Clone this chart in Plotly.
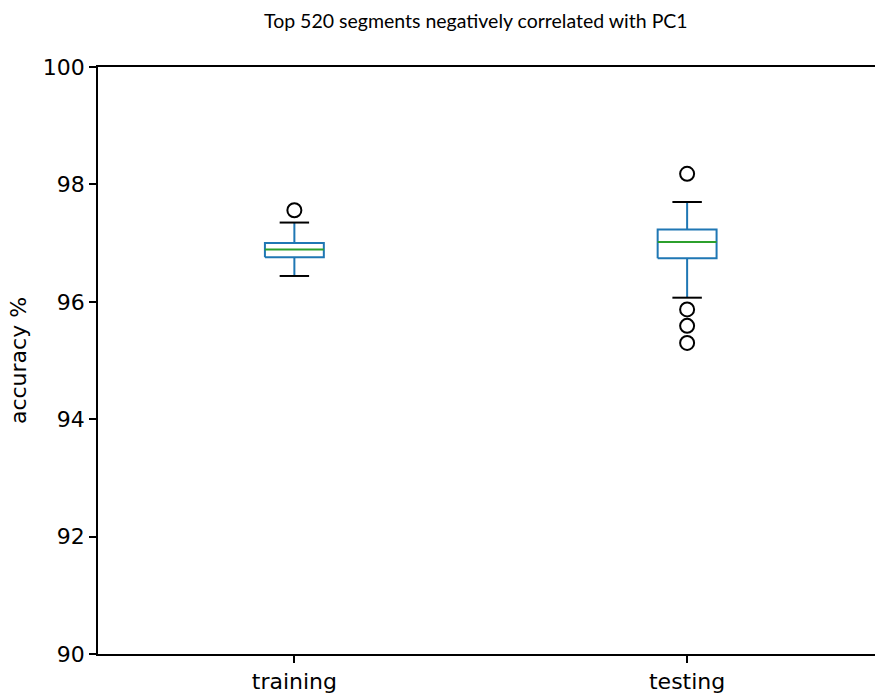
import plotly.graph_objects as go

# Summary statistics for each box (accuracy %)
categories = ["training", "testing"]
positions = [1, 2]
lower_whisker = [96.44, 96.07]
q1 = [96.76, 96.74]
median = [96.89, 97.02]
q3 = [97.00, 97.23]
upper_whisker = [97.35, 97.70]
outliers = [[97.56], [98.18, 95.87, 95.59, 95.30]]

y_ticks = [90, 92, 94, 96, 98, 100]

BOX_W = 0.15
CAP_W = 0.075
BLUE = "#1f77b4"
GREEN = "#2ca02c"

fig = go.Figure()

for p, lo, a, m, b, hi, fl in zip(positions, lower_whisker, q1, median, q3,
                                  upper_whisker, outliers):
    # box body
    fig.add_trace(go.Scatter(
        x=[p - BOX_W / 2, p + BOX_W / 2, p + BOX_W / 2, p - BOX_W / 2, p - BOX_W / 2],
        y=[a, a, b, b, a], mode="lines",
        line=dict(color=BLUE, width=2), hoverinfo="skip", showlegend=False))
    # whiskers
    fig.add_trace(go.Scatter(
        x=[p, p, None, p, p], y=[a, lo, None, b, hi], mode="lines",
        line=dict(color=BLUE, width=2), hoverinfo="skip", showlegend=False))
    # caps
    fig.add_trace(go.Scatter(
        x=[p - CAP_W / 2, p + CAP_W / 2, None, p - CAP_W / 2, p + CAP_W / 2],
        y=[lo, lo, None, hi, hi], mode="lines",
        line=dict(color="black", width=2), hoverinfo="skip", showlegend=False))
    # median
    fig.add_trace(go.Scatter(
        x=[p - BOX_W / 2, p + BOX_W / 2], y=[m, m], mode="lines",
        line=dict(color=GREEN, width=2), hoverinfo="skip", showlegend=False))
    # fliers
    fig.add_trace(go.Scatter(
        x=[p] * len(fl), y=fl, mode="markers",
        marker=dict(symbol="circle-open", size=14, color="black",
                    line=dict(color="black", width=2)),
        showlegend=False))

W, H = 875, 693
left, top, bottom = 97.5, 67, 39
px_per_unit = 393.0
x_max = 0.5 + (W - left) / px_per_unit

fig.update_layout(
    width=W, height=H,
    margin=dict(l=left, r=0, t=top, b=bottom, pad=0),
    paper_bgcolor="white", plot_bgcolor="white",
    font=dict(family="DejaVu Sans", size=22, color="black"),
    xaxis=dict(
        range=[0.5, x_max], tickmode="array", tickvals=positions, ticktext=categories,
        showgrid=False, zeroline=False, showline=True, linecolor="black", linewidth=1.5,
        mirror=True, ticks="outside", ticklen=7, tickwidth=1.5, tickcolor="black",
        tickfont=dict(family="DejaVu Sans", size=22, color="black"),
    ),
    yaxis=dict(
        range=[90, 100], tickmode="array", tickvals=y_ticks,
        ticktext=[str(t) for t in y_ticks],
        showgrid=False, zeroline=False, showline=True, linecolor="black", linewidth=1.5,
        mirror=False, ticks="outside", ticklen=7, tickwidth=1.5, tickcolor="black",
        tickfont=dict(family="DejaVu Sans", size=22, color="black"),
        title=dict(text="accuracy %", font=dict(family="DejaVu Sans", size=22, color="black"),
                   standoff=10),
    ),
    annotations=[dict(
        text="Top 520 segments negatively correlated with PC1",
        xref="paper", yref="paper",
        x=(476 - left) / (W - left), y=1 + (67 - 20) / (H - top - bottom),
        xanchor="center", yanchor="middle", showarrow=False,
        font=dict(family="Lato", size=19.5, color="black"),
    )],
)

fig.write_html("out.html")
